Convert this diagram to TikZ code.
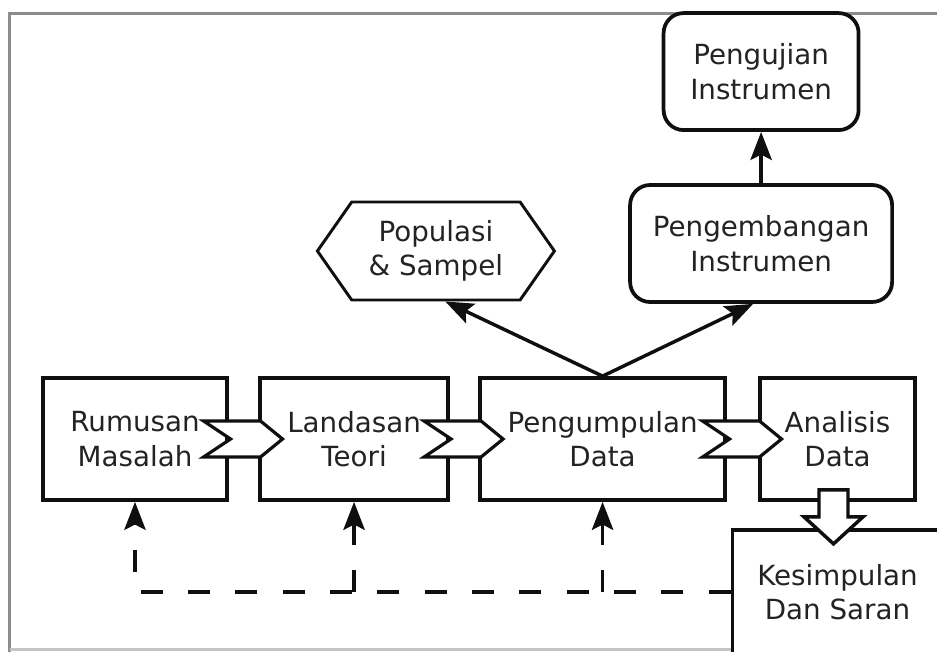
\documentclass[tikz,border=0pt]{standalone}
\usepackage{fontspec}
\setmainfont{DejaVu Sans}
\usetikzlibrary{arrows.meta, positioning, calc, shapes.symbols}
\definecolor{ink}{RGB}{15, 15, 15}
\definecolor{txt}{RGB}{35, 35, 35}
\definecolor{framegray}{RGB}{140, 140, 140}
\tikzset{
    font=\fontsize{20.8}{26}\selectfont,
    stage/.style={rectangle, draw=ink, fill=white, line width=2.8pt, align=center, text=txt, minimum height=91.5pt},
    rstage/.style={stage, rounded corners=15pt, minimum height=87.75pt},
    hexa/.style={signal, signal to=west and east, signal pointer angle=110, draw=ink, fill=white, line width=2.2pt, align=center, text=txt, minimum width=177.75pt, minimum height=73.5pt},
    chevron/.style={draw=ink, fill=white, line width=2.4pt, line join=miter},
    hollow/.style={draw=ink, fill=white, line width=2.6pt, line join=miter},
    arrow/.style={-{Stealth[length=21pt, width=16pt, inset=4pt]}, line width=2.6pt, draw=ink},
    dasharrow/.style={arrow, dash pattern=on 16.5pt off 19pt},
    frameline/.style={draw=framegray, line width=2.5pt}
}
\begin{document}
\begin{tikzpicture}[x=0.75pt, y=-0.75pt]

    \useasboundingbox (0,0) rectangle (937,651);
    \clip (0,0) rectangle (937,651);

    % frame of the screenshot
    \draw [frameline] (9.5,660) -- (9.5,13.5) -- (945,13.5);
    \draw [frameline, draw=framegray!50] (9.5,649.5) -- (945,649.5);

    \node (rumusan)     [stage, minimum width=138pt] at (135,439) {Rumusan\\Masalah};
    \node (landasan)    [stage, minimum width=141pt, right=22pt of rumusan] {Landasan\\Teori};
    \node (pengumpulan) [stage, minimum width=183.75pt, right=21.2pt of landasan] {Pengumpulan\\Data};
    \node (analisis)    [stage, minimum width=116.25pt, right=23.4pt of pengumpulan] {Analisis\\Data};
    \node (kesimpulan)  [stage, minimum width=157.5pt, minimum height=93pt, below=19.7pt of analisis] {Kesimpulan\\Dan Saran};

    \node (popsampel)    [hexa, above=56pt of pengumpulan, xshift=-125pt] {Populasi\\\& Sampel};
    \node (pengembangan) [rstage, minimum width=196.5pt, above=54.2pt of pengumpulan, xshift=118.9pt] {Pengembangan\\Instrumen};
    \node (pengujian)    [rstage, minimum width=146.25pt, above=38.4pt of pengembangan] {Pengujian\\Instrumen};

    % chevrons between the stages
    \coordinate (c1) at ($(rumusan.east)!0.5!(landasan.west)$);
    \coordinate (c2) at ($(landasan.east)!0.5!(pengumpulan.west)$);
    \coordinate (c3) at ($(pengumpulan.east)!0.5!(analisis.west)$);
    \draw [chevron] ($(c1)+(-40,-18)$) -- ++(57,0) -- ++(22,18) -- ++(-22,18) -- ++(-57,0) -- ++(27,-18) -- cycle;
    \draw [chevron] ($(c2)+(-40,-18)$) -- ++(57,0) -- ++(22,18) -- ++(-22,18) -- ++(-57,0) -- ++(27,-18) -- cycle;
    \draw [chevron] ($(c3)+(-40,-18)$) -- ++(57,0) -- ++(22,18) -- ++(-22,18) -- ++(-57,0) -- ++(27,-18) -- cycle;

    % hollow arrow down to the conclusion
    \draw [hollow] ($(analisis.south)+(-18.5,-12)$) -- ++(0,27) -- ++(-15,0) -- ++(29.5,27) -- ++(29.5,-27) -- ++(-15,0) -- ++(0,-27) -- cycle;

    \draw [arrow] (pengumpulan.north) -- ([xshift=7pt]popsampel.south);
    \draw [arrow] (pengumpulan.north) -- ([xshift=-6pt]pengembangan.south);
    \draw [arrow] (pengembangan) -- (pengujian);

    \draw [dasharrow] (kesimpulan.west) -| (rumusan.south);
    \draw [dasharrow] (landasan.south |- kesimpulan.west) -- (landasan.south);
    \draw [dasharrow] (pengumpulan.south |- kesimpulan.west) -- (pengumpulan.south);

\end{tikzpicture}
\end{document}
